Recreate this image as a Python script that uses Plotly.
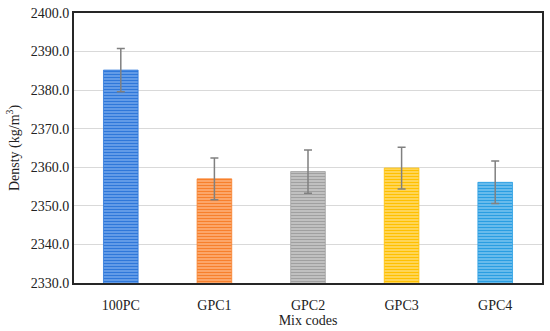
import plotly.graph_objects as go

categories = ["100PC", "GPC1", "GPC2", "GPC3", "GPC4"]
density = [2385.2, 2357.0, 2358.9, 2359.8, 2356.1]
error = [5.6, 5.4, 5.6, 5.4, 5.5]
colors = ["#2F78DA", "#F7802C", "#A0A0A0", "#FFC000", "#2A9EE2"]
tints = ["#7AACEE", "#FFB886", "#D0D0D0", "#FFE07E", "#84C9F1"]

fig = go.Figure()
for cat, val, err, col, tint in zip(categories, density, error, colors, tints):
    fig.add_trace(go.Bar(
        x=[cat], y=[val],
        marker=dict(color=tint, line=dict(color=col, width=0.8),
                    pattern=dict(shape="-", fgcolor=col, bgcolor=tint,
                                 fgopacity=1, size=3, solidity=0.55, fillmode="replace")),
        error_y=dict(type="data", array=[err], color="#808080", thickness=1.5, width=4),
        width=0.37,
    ))
font = "Liberation Serif"
fig.update_layout(
    width=550, height=331,
    margin=dict(l=74, r=6, t=11, b=48),
    paper_bgcolor="white", plot_bgcolor="white",
    font=dict(family=font, size=14, color="#222"),
    showlegend=False, barmode="overlay",
)
fig.update_yaxes(range=[2330, 2400], dtick=10, tickformat=".1f",
                 showgrid=True, gridcolor="#D9D9D9", gridwidth=1,
                 showline=True, linecolor="#262626", linewidth=2, mirror=True,
                 ticks="", tickfont=dict(size=14),
                 title=dict(text="Densty (kg/m<sup>3</sup>)", standoff=8, font=dict(size=14)))
fig.update_xaxes(showline=True, linecolor="#262626", linewidth=2, mirror=True,
                 categoryorder="array", categoryarray=categories,
                 tickfont=dict(size=14), ticklabelstandoff=8,
                 title=dict(text="Mix codes", standoff=2, font=dict(size=14)), ticks="")
fig.write_html("out.html", config={"displayModeBar": False},
               post_script="document.body.style.margin='0';")
